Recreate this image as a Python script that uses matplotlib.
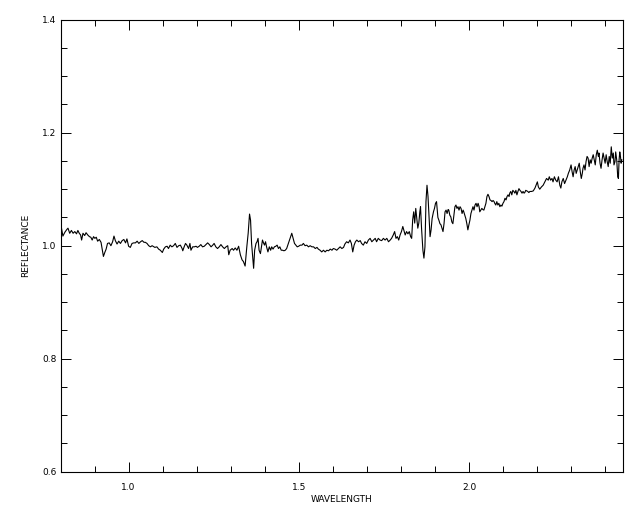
import matplotlib
matplotlib.use("Agg")
import matplotlib.pyplot as plt
from matplotlib.ticker import MultipleLocator

# spectrum (wavelength in microns, reflectance)
wavelength = [
    0.802, 0.807, 0.813, 0.819, 0.822, 0.827, 0.832, 0.837, 0.842, 0.847,
    0.851, 0.855, 0.859, 0.862, 0.866, 0.871, 0.875, 0.880, 0.885, 0.889,
    0.893, 0.897, 0.901, 0.905, 0.909, 0.914, 0.919, 0.923, 0.926, 0.930,
    0.934, 0.938, 0.943, 0.948, 0.953, 0.957, 0.961, 0.966, 0.971, 0.976,
    0.981, 0.986, 0.991, 0.995, 1.000, 1.005, 1.010, 1.015, 1.020, 1.025,
    1.030, 1.035, 1.040, 1.045, 1.049, 1.054, 1.059, 1.064, 1.069, 1.074,
    1.077, 1.083, 1.088, 1.093, 1.099, 1.103, 1.108, 1.113, 1.117, 1.122,
    1.127, 1.132, 1.137, 1.142, 1.147, 1.152, 1.157, 1.159, 1.163, 1.167,
    1.171, 1.176, 1.180, 1.183, 1.188, 1.193, 1.198, 1.202, 1.207, 1.212,
    1.217, 1.222, 1.227, 1.232, 1.237, 1.242, 1.247, 1.251, 1.256, 1.261,
    1.266, 1.271, 1.276, 1.281, 1.286, 1.291, 1.294, 1.298, 1.304, 1.308,
    1.313, 1.318, 1.323, 1.328, 1.333, 1.337, 1.342, 1.347, 1.351, 1.355,
    1.358, 1.361, 1.364, 1.367, 1.370, 1.374, 1.377, 1.380, 1.383, 1.387,
    1.390, 1.393, 1.396, 1.399, 1.402, 1.405, 1.409, 1.413, 1.417, 1.420,
    1.424, 1.428, 1.432, 1.436, 1.440, 1.444, 1.448, 1.452, 1.456, 1.460,
    1.464, 1.469, 1.474, 1.479, 1.483, 1.487, 1.491, 1.495, 1.499, 1.504,
    1.509, 1.513, 1.518, 1.523, 1.528, 1.533, 1.538, 1.543, 1.548, 1.553,
    1.557, 1.562, 1.567, 1.572, 1.577, 1.582, 1.587, 1.592, 1.597, 1.601,
    1.606, 1.611, 1.616, 1.621, 1.626, 1.631, 1.635, 1.640, 1.645, 1.650,
    1.654, 1.658, 1.662, 1.666, 1.670, 1.675, 1.680, 1.684, 1.689, 1.694,
    1.699, 1.704, 1.709, 1.714, 1.719, 1.724, 1.728, 1.733, 1.738, 1.743,
    1.748, 1.753, 1.758, 1.763, 1.768, 1.772, 1.777, 1.781, 1.785, 1.789,
    1.793, 1.797, 1.801, 1.805, 1.809, 1.812, 1.816, 1.820, 1.824, 1.828,
    1.831, 1.834, 1.837, 1.840, 1.843, 1.846, 1.849, 1.852, 1.855, 1.857,
    1.860, 1.864, 1.867, 1.870, 1.873, 1.876, 1.879, 1.882, 1.885, 1.888,
    1.891, 1.895, 1.898, 1.901, 1.904, 1.908, 1.911, 1.914, 1.917, 1.920,
    1.923, 1.926, 1.929, 1.932, 1.935, 1.938, 1.940, 1.943, 1.946, 1.949,
    1.952, 1.955, 1.958, 1.961, 1.964, 1.967, 1.970, 1.973, 1.976, 1.979,
    1.982, 1.984, 1.987, 1.990, 1.993, 1.996, 1.999, 2.002, 2.005, 2.008,
    2.011, 2.014, 2.017, 2.020, 2.023, 2.026, 2.029, 2.031, 2.034, 2.037,
    2.040, 2.043, 2.046, 2.049, 2.052, 2.055, 2.058, 2.061, 2.064, 2.067,
    2.070, 2.073, 2.075, 2.078, 2.081, 2.084, 2.087, 2.090, 2.093, 2.096,
    2.099, 2.102, 2.105, 2.108, 2.111, 2.114, 2.117, 2.119, 2.122, 2.125,
    2.128, 2.131, 2.134, 2.137, 2.140, 2.143, 2.146, 2.149, 2.152, 2.155,
    2.158, 2.161, 2.163, 2.166, 2.169, 2.172, 2.175, 2.178, 2.183, 2.188,
    2.193, 2.198, 2.200, 2.203, 2.207, 2.212, 2.217, 2.222, 2.227, 2.232,
    2.235, 2.239, 2.243, 2.246, 2.250, 2.254, 2.258, 2.262, 2.266, 2.269,
    2.272, 2.276, 2.280, 2.284, 2.288, 2.291, 2.295, 2.299, 2.302, 2.305,
    2.308, 2.311, 2.314, 2.317, 2.320, 2.323, 2.326, 2.329, 2.332, 2.334,
    2.337, 2.340, 2.343, 2.346, 2.349, 2.352, 2.355, 2.358, 2.361, 2.364,
    2.367, 2.370, 2.373, 2.376, 2.379, 2.381, 2.384, 2.387, 2.390, 2.393,
    2.396, 2.399, 2.402, 2.405, 2.408, 2.411, 2.414, 2.417, 2.420, 2.423,
    2.425, 2.428, 2.430, 2.433, 2.436, 2.438, 2.440, 2.442, 2.444, 2.446,
    2.448,
]

reflectance = [
    1.034, 1.017, 1.024, 1.029, 1.031, 1.022, 1.027, 1.022, 1.025, 1.021,
    1.027, 1.022, 1.019, 1.010, 1.022, 1.018, 1.023, 1.019, 1.016, 1.015,
    1.010, 1.016, 1.013, 1.015, 1.008, 1.011, 1.006, 0.992, 0.981, 0.988,
    0.994, 1.004, 1.005, 1.000, 1.007, 1.017, 1.009, 1.003, 1.008, 1.004,
    1.009, 1.011, 1.005, 1.012, 0.999, 0.997, 1.004, 1.005, 1.005, 1.008,
    1.004, 1.007, 1.009, 1.006, 1.006, 1.004, 1.000, 0.998, 1.000, 0.998,
    0.997, 0.998, 0.994, 0.992, 0.988, 0.994, 0.998, 0.999, 0.995, 1.001,
    0.998, 1.000, 1.004, 0.997, 1.000, 1.001, 0.995, 0.991, 0.998, 1.004,
    1.001, 0.995, 1.004, 0.992, 0.998, 0.998, 0.999, 0.997, 0.999, 1.002,
    0.998, 0.999, 1.002, 1.005, 1.002, 0.998, 1.001, 1.004, 0.998, 0.995,
    0.998, 1.002, 0.998, 0.995, 0.998, 1.000, 0.984, 0.992, 0.995, 0.992,
    0.996, 0.992, 0.999, 0.984, 0.975, 0.972, 0.964, 0.998, 1.022, 1.056,
    1.045, 1.004, 0.981, 0.960, 0.992, 1.004, 1.007, 1.013, 0.992, 0.986,
    0.998, 1.010, 1.005, 1.001, 1.007, 0.998, 0.989, 0.998, 0.992, 0.998,
    0.994, 0.998, 0.999, 1.001, 0.995, 0.998, 0.992, 0.992, 0.991, 0.992,
    0.995, 1.004, 1.013, 1.022, 1.013, 1.004, 1.001, 0.998, 0.999, 1.001,
    1.001, 1.004, 1.000, 1.001, 0.998, 1.000, 0.998, 0.998, 0.995, 0.997,
    0.994, 0.992, 0.989, 0.992, 0.989, 0.992, 0.991, 0.994, 0.992, 0.995,
    0.994, 0.992, 0.995, 0.998, 0.995, 0.997, 1.003, 1.007, 1.005, 1.010,
    1.004, 0.989, 1.001, 1.007, 1.010, 1.007, 1.009, 1.004, 1.001, 1.007,
    1.004, 1.010, 1.013, 1.007, 1.010, 1.013, 1.007, 1.013, 1.010, 1.009,
    1.013, 1.010, 1.013, 1.007, 1.010, 1.013, 1.019, 1.025, 1.013, 1.016,
    1.010, 1.019, 1.025, 1.034, 1.025, 1.019, 1.025, 1.021, 1.025, 1.016,
    1.013, 1.046, 1.060, 1.040, 1.066, 1.048, 1.031, 1.040, 1.060, 1.069,
    1.031, 0.992, 0.978, 0.998, 1.078, 1.107, 1.087, 1.051, 1.016, 1.028,
    1.048, 1.060, 1.066, 1.075, 1.078, 1.050, 1.045, 1.039, 1.037, 1.031,
    1.025, 1.039, 1.060, 1.063, 1.057, 1.064, 1.063, 1.054, 1.051, 1.042,
    1.039, 1.054, 1.069, 1.072, 1.066, 1.069, 1.063, 1.069, 1.066, 1.057,
    1.063, 1.060, 1.054, 1.048, 1.039, 1.028, 1.037, 1.045, 1.057, 1.063,
    1.069, 1.063, 1.072, 1.075, 1.069, 1.075, 1.069, 1.060, 1.063, 1.066,
    1.064, 1.063, 1.069, 1.075, 1.087, 1.091, 1.087, 1.081, 1.080, 1.078,
    1.080, 1.078, 1.075, 1.072, 1.078, 1.072, 1.075, 1.069, 1.072, 1.070,
    1.075, 1.078, 1.084, 1.081, 1.087, 1.090, 1.087, 1.093, 1.096, 1.090,
    1.098, 1.096, 1.093, 1.098, 1.090, 1.096, 1.101, 1.098, 1.096, 1.093,
    1.096, 1.093, 1.094, 1.098, 1.097, 1.096, 1.094, 1.096, 1.096, 1.097,
    1.102, 1.110, 1.113, 1.104, 1.100, 1.104, 1.107, 1.113, 1.119, 1.116,
    1.122, 1.116, 1.119, 1.113, 1.122, 1.116, 1.113, 1.122, 1.107, 1.102,
    1.113, 1.119, 1.110, 1.116, 1.122, 1.128, 1.134, 1.143, 1.131, 1.122,
    1.134, 1.140, 1.128, 1.134, 1.140, 1.146, 1.131, 1.119, 1.128, 1.137,
    1.143, 1.134, 1.149, 1.158, 1.155, 1.140, 1.152, 1.146, 1.155, 1.161,
    1.152, 1.143, 1.161, 1.169, 1.158, 1.164, 1.146, 1.137, 1.152, 1.164,
    1.155, 1.146, 1.161, 1.149, 1.140, 1.158, 1.146, 1.175, 1.155, 1.164,
    1.143, 1.149, 1.166, 1.152, 1.122, 1.119, 1.152, 1.166, 1.158, 1.146,
    1.152,
]

x_range = (0.8, 2.45)
y_range = (0.6, 1.4)
x_major = [1.0, 1.5, 2.0]
y_major = [0.6, 0.8, 1.0, 1.2, 1.4]

plt.rcParams['font.family'] = ['DejaVu Sans']
plt.rcParams['font.size'] = 6.5

fig = plt.figure(figsize=(6.4, 5.12), dpi=100)
ax = fig.add_axes([60.5 / 640, 1 - 471.7 / 512, 562 / 640, 452 / 512])

ax.plot(wavelength, reflectance, color='black', lw=0.8)

ax.set_xlim(*x_range)
ax.set_ylim(*y_range)
ax.set_xticks(x_major)
ax.set_xticklabels([f"{v:.1f}" for v in x_major])
ax.set_yticks(y_major)
ax.set_yticklabels([f"{v:.1f}" for v in y_major])
ax.xaxis.set_minor_locator(MultipleLocator(0.1))
ax.yaxis.set_minor_locator(MultipleLocator(0.05))

ax.tick_params(which='both', direction='in', top=True, right=True, width=0.7, colors='black')
ax.tick_params(which='major', length=7.2)
ax.tick_params(which='minor', length=4.3)
ax.tick_params(axis='x', which='major', pad=8)
ax.tick_params(axis='y', which='major', pad=3)

for s in ax.spines.values():
    s.set_linewidth(0.8)

ax.set_xlabel('WAVELENGTH')
ax.set_ylabel('REFLECTANCE')
ax.xaxis.set_label_coords(0.5, -0.052)
ax.yaxis.set_label_coords(-0.054, 0.5)

fig.savefig('out.png', dpi=100)
